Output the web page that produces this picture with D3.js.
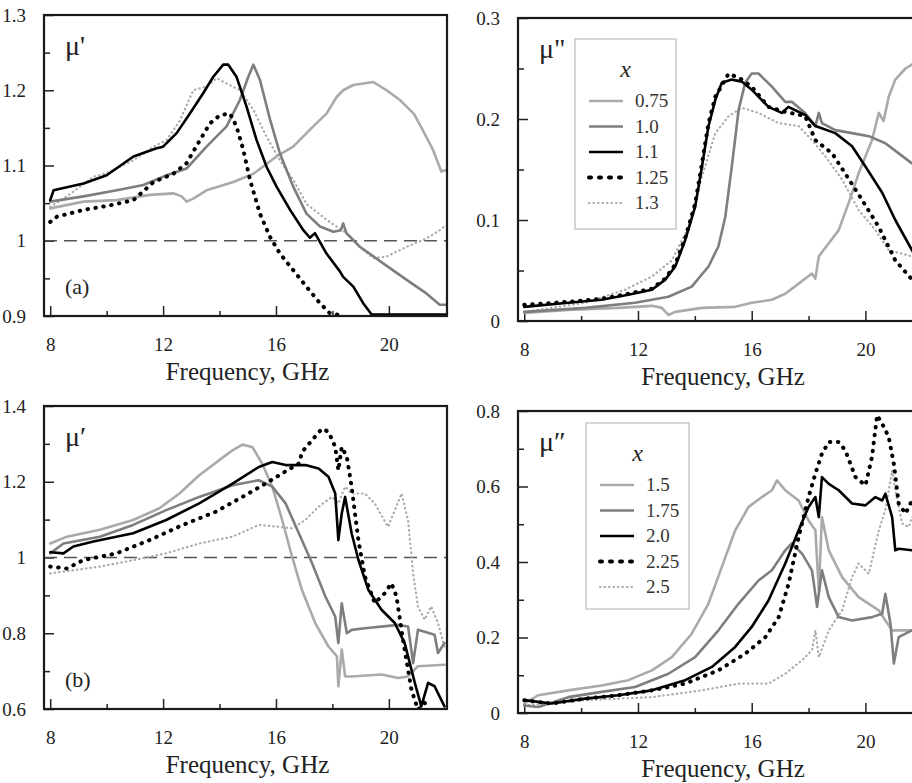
<!DOCTYPE html>
<html lang="en">
	<head>
		<meta charset="utf-8">
		<title>Permeability spectra</title>
		<script type="text/javascript" src="https://cdn.jsdelivr.net/npm/d3@7"></script>
		<style type="text/css">
			body, html {
				margin: 0;
				background: #fff;
			}
			.lbl {
				font-family: 'Liberation Serif', serif;
				fill: #222;
			}
			.tick text {
				font-family: 'Liberation Serif', serif;
				font-size: 19px;
				fill: #222;
			}
			.tick line {
				stroke: #222;
				stroke-width: 1.5;
			}
		</style>
	</head>
	<body>
		<script type="text/javascript">
			// frequency ticks (GHz)
			var freqTicks = [8, 12, 16, 20];
			var freqMinor = [10, 14, 18];

			// (a) mu' , x = 0.75 / 1.0 / 1.1 / 1.25 / 1.3
			var a075 = [[8,1.043],[9.18,1.052],[10.36,1.054],[11.54,1.061],[12.36,1.063],[12.66,1.059],[12.83,1.052],[13.07,1.056],[13.54,1.067],[14.49,1.078],[15.2,1.089],[16.02,1.112],[16.61,1.125],[17.32,1.152],[17.79,1.169],[18.15,1.191],[18.38,1.2],[18.74,1.207],[19.44,1.211],[19.92,1.2],[20.39,1.187],[20.8,1.172],[20.9,1.168],[21.2,1.147],[21.56,1.121],[21.86,1.092],[22.04,1.094]];
			var a100 = [[8,1.052],[9.18,1.059],[10.36,1.067],[11.3,1.074],[12.13,1.087],[12.83,1.096],[13.54,1.125],[14.25,1.152],[14.72,1.187],[15.02,1.218],[15.2,1.234],[15.43,1.214],[15.79,1.161],[16.14,1.116],[16.61,1.072],[17.08,1.036],[17.56,1.019],[18.03,1.012],[18.3,1.014],[18.38,1.023],[18.5,1.01],[18.97,0.992],[19.8,0.97],[20.63,0.948],[21.33,0.93],[21.8,0.915],[22.04,0.915]];
			var a110 = [[8,1.054],[8.12,1.067],[9.18,1.076],[10,1.087],[10.95,1.112],[11.77,1.123],[12,1.125],[12.48,1.143],[12.95,1.169],[13.42,1.196],[13.78,1.218],[14.13,1.234],[14.31,1.234],[14.6,1.218],[14.96,1.178],[15.31,1.134],[15.67,1.098],[16.02,1.072],[16.5,1.041],[16.97,1.014],[17.2,1.004],[17.38,1.01],[17.79,0.983],[18.27,0.959],[18.38,0.952],[18.74,0.939],[19.09,0.917],[19.39,0.902],[22.04,0.902]];
			var a125 = [[8,1.025],[8.24,1.032],[9.18,1.041],[10.12,1.047],[10.95,1.054],[11.66,1.078],[12.36,1.089],[12.83,1.103],[13.31,1.134],[13.66,1.156],[14.02,1.167],[14.37,1.169],[14.6,1.152],[14.84,1.121],[15.08,1.081],[15.43,1.036],[15.79,1.005],[16.14,0.983],[16.61,0.961],[17.08,0.939],[17.56,0.917],[17.9,0.904],[18.27,0.901],[18.6,0.88]];
			var a130 = [[8,1.045],[8.59,1.059],[9.53,1.085],[10,1.09],[10.95,1.107],[11.66,1.125],[12.13,1.134],[12.6,1.16],[13.07,1.2],[13.54,1.205],[13.9,1.216],[14.25,1.209],[14.72,1.2],[15.2,1.174],[15.67,1.138],[16.14,1.107],[16.61,1.081],[17.08,1.049],[17.79,1.028],[18.5,1.01],[18.97,0.992],[19.44,0.977],[19.92,0.979],[20.63,0.992],[21.33,1.003],[21.8,1.014],[22.04,1.021]];

			// (c) mu'' , same samples
			var c075 = [[8,0.008],[9.55,0.011],[11.31,0.013],[12.49,0.015],[12.84,0.013],[13.07,0.006],[13.31,0.009],[14.25,0.013],[15.42,0.014],[16,0.018],[16.71,0.021],[17.18,0.027],[17.65,0.037],[18.12,0.047],[18.24,0.042],[18.36,0.064],[18.71,0.077],[19.06,0.09],[19.41,0.117],[19.76,0.146],[20.23,0.179],[20.47,0.206],[20.64,0.198],[20.82,0.222],[21.05,0.239],[21.41,0.25],[21.64,0.254],[22.06,0.257]];
			var c100 = [[8,0.009],[10.14,0.013],[11.9,0.018],[13.07,0.024],[13.89,0.034],[14.48,0.054],[14.83,0.074],[15.07,0.103],[15.3,0.153],[15.54,0.209],[15.77,0.236],[16,0.245],[16.24,0.245],[16.71,0.232],[17.18,0.217],[17.41,0.217],[17.88,0.206],[18.24,0.193],[18.36,0.206],[18.47,0.196],[18.94,0.189],[19.53,0.186],[20.12,0.183],[20.7,0.176],[21.17,0.166],[21.64,0.156],[22.06,0.148]];
			var c110 = [[8,0.014],[9.55,0.018],[10.72,0.021],[11.66,0.026],[12.49,0.031],[12.96,0.041],[13.31,0.054],[13.66,0.08],[14.01,0.113],[14.25,0.153],[14.48,0.193],[14.72,0.219],[14.95,0.236],[15.3,0.239],[15.66,0.237],[16,0.229],[16.59,0.212],[17.06,0.206],[17.29,0.212],[17.88,0.204],[18.24,0.193],[18.94,0.186],[19.53,0.173],[20,0.153],[20.59,0.127],[21.05,0.1],[21.64,0.07],[22.06,0.05]];
			var c125 = [[8,0.016],[9.55,0.019],[10.72,0.022],[11.66,0.027],[12.49,0.032],[12.96,0.042],[13.31,0.056],[13.66,0.082],[14.01,0.116],[14.25,0.156],[14.48,0.196],[14.72,0.222],[15.19,0.245],[15.6,0.24],[16,0.232],[16.59,0.212],[17.18,0.207],[17.88,0.203],[18.24,0.179],[18.83,0.166],[19.29,0.146],[19.88,0.12],[20.47,0.093],[21.05,0.06],[21.64,0.041],[22.06,0.03]];
			var c130 = [[8,0.009],[10.14,0.018],[11.55,0.031],[12.49,0.044],[13.19,0.06],[13.78,0.093],[14.25,0.143],[14.72,0.186],[15.19,0.203],[15.66,0.211],[16.24,0.206],[16.94,0.196],[17.65,0.193],[18.12,0.179],[18.59,0.163],[19.18,0.14],[19.76,0.11],[20.35,0.09],[20.82,0.07],[21.64,0.064],[22.06,0.06]];

			// (b) mu' , x = 1.5 / 1.75 / 2.0 / 2.25 / 2.5
			var b150 = [[8,1.037],[8.59,1.055],[9.76,1.073],[10.94,1.099],[11.87,1.13],[12.58,1.169],[13.28,1.217],[13.99,1.257],[14.46,1.283],[14.81,1.298],[15.16,1.292],[15.51,1.248],[15.87,1.187],[16.22,1.099],[16.57,1.002],[16.92,0.914],[17.39,0.827],[17.86,0.765],[18.16,0.739],[18.21,0.66],[18.33,0.757],[18.45,0.686],[18.68,0.686],[19.74,0.691],[20.33,0.682],[20.68,0.686],[21.03,0.713],[21.97,0.717]];
			var b175 = [[8,1.011],[8.47,1.037],[9.76,1.055],[10.94,1.086],[12.11,1.125],[13.28,1.16],[14.46,1.191],[15.39,1.204],[15.87,1.187],[16.34,1.143],[16.81,1.064],[17.28,0.985],[17.75,0.897],[18.1,0.844],[18.21,0.774],[18.33,0.879],[18.51,0.8],[18.68,0.809],[19.15,0.813],[20.33,0.822],[20.68,0.818],[20.86,0.721],[21.03,0.809],[21.62,0.796],[21.74,0.748],[21.97,0.774]];
			var b200 = [[8,1.014],[8.47,1.011],[8.82,1.029],[9.53,1.042],[10.94,1.064],[12.11,1.099],[13.28,1.143],[14.46,1.195],[15.39,1.239],[15.87,1.252],[16.34,1.244],[17.04,1.244],[17.51,1.235],[17.86,1.213],[18.1,1.169],[18.21,1.046],[18.33,1.116],[18.45,1.16],[18.68,1.064],[18.92,0.994],[19.27,0.915],[19.74,0.862],[20.21,0.827],[20.56,0.774],[20.92,0.669],[21.15,0.607],[21.39,0.669],[21.62,0.66],[21.97,0.607]];
			var b225 = [[8,0.976],[8.59,0.971],[9.17,0.993],[10.35,1.011],[11.52,1.046],[12.7,1.086],[13.87,1.121],[14.81,1.16],[15.63,1.195],[16.22,1.222],[16.81,1.248],[16.93,1.279],[17.28,1.31],[17.63,1.34],[17.86,1.332],[18.1,1.292],[18.21,1.23],[18.33,1.292],[18.51,1.266],[18.68,1.187],[18.92,1.046],[19.15,0.95],[19.5,0.88],[19.86,0.906],[20.09,0.932],[20.27,0.897],[20.5,0.783],[20.8,0.651],[21.03,0.598],[21.27,0.616],[21.5,0.58]];
			var b250 = [[8,0.958],[9.76,0.976],[10.94,0.993],[12.11,1.011],[13.28,1.037],[14.46,1.055],[15.39,1.086],[16.1,1.081],[16.57,1.077],[17.04,1.099],[17.51,1.134],[17.98,1.16],[18.21,1.143],[18.45,1.187],[18.68,1.169],[19.15,1.169],[19.5,1.143],[19.97,1.081],[20.45,1.169],[20.68,1.099],[20.86,0.958],[21.03,0.871],[21.27,0.836],[21.5,0.871],[21.74,0.827],[21.97,0.765]];

			// (d) mu''
			var d150 = [[8,0.025],[8.49,0.047],[9.55,0.06],[10.72,0.073],[11.66,0.087],[12.49,0.113],[13.19,0.148],[13.89,0.21],[14.48,0.29],[14.95,0.387],[15.42,0.484],[15.89,0.546],[16.36,0.572],[16.71,0.59],[16.89,0.616],[17.18,0.59],[17.65,0.563],[18,0.51],[18.24,0.484],[18.36,0.325],[18.47,0.519],[18.71,0.431],[19.18,0.36],[19.76,0.307],[20.47,0.272],[20.7,0.245],[20.94,0.219],[21.64,0.219],[22.06,0.215]];
			var d175 = [[8,0.02],[8.49,0.016],[9.55,0.042],[10.72,0.056],[11.9,0.069],[13.07,0.104],[14.01,0.148],[14.83,0.219],[15.54,0.29],[16.24,0.351],[16.71,0.378],[17.18,0.431],[17.41,0.449],[17.77,0.422],[18.12,0.378],[18.3,0.281],[18.47,0.378],[18.71,0.307],[19.06,0.254],[19.53,0.245],[20.23,0.254],[20.59,0.263],[20.7,0.316],[20.88,0.237],[21,0.131],[21.17,0.201],[21.64,0.219],[22.06,0.22]];
			var d200 = [[8,0.034],[8.96,0.025],[10.14,0.038],[11.31,0.047],[12.49,0.06],[13.66,0.087],[14.6,0.122],[15.42,0.175],[16,0.228],[16.59,0.298],[17.18,0.396],[17.65,0.484],[18,0.546],[18.24,0.572],[18.36,0.519],[18.47,0.625],[18.71,0.607],[19.06,0.59],[19.53,0.555],[20,0.55],[20.35,0.572],[20.59,0.563],[20.7,0.581],[20.94,0.519],[21.05,0.431],[21.17,0.435],[21.64,0.431],[22.06,0.44]];
			var d225 = [[8,0.034],[8.96,0.025],[10.14,0.038],[11.31,0.047],[12.49,0.06],[13.66,0.078],[14.83,0.113],[15.77,0.157],[16.48,0.201],[16.95,0.254],[17.3,0.343],[17.65,0.466],[18,0.572],[18.24,0.634],[18.47,0.687],[18.71,0.718],[19.06,0.718],[19.29,0.696],[19.65,0.625],[20,0.603],[20.23,0.678],[20.41,0.789],[20.59,0.766],[20.82,0.731],[21,0.66],[21.17,0.555],[21.41,0.528],[21.64,0.563],[22.06,0.57]];
			var d250 = [[8,0.02],[10.14,0.034],[12.49,0.042],[14.25,0.06],[15.54,0.078],[16.59,0.078],[17.18,0.104],[17.77,0.14],[18.12,0.166],[18.24,0.219],[18.36,0.148],[18.71,0.219],[19.18,0.272],[19.53,0.36],[19.76,0.396],[20.12,0.369],[20.47,0.484],[20.7,0.537],[20.94,0.643],[21.05,0.59],[21.29,0.502],[21.52,0.493],[21.64,0.519],[22.06,0.5]];

			var topLegend = ["0.75", "1.0", "1.1", "1.25", "1.3"];
			var botLegend = ["1.5", "1.75", "2.0", "2.25", "2.5"];

			// line styles, one per legend position
			var styles = [
				{color: "#aaa", width: 2.6, dash: null},
				{color: "#7e7e7e", width: 2.6, dash: null},
				{color: "#000", width: 2.6, dash: null},
				{color: "#000", width: 4, dash: "0.5,7.5"},
				{color: "#aaa", width: 2.2, dash: "0.5,4"}
			];

			var w = 912;
			var h = 783;

			var svg = d3.select("body")
				.append("svg")
				.attr("width", w)
				.attr("height", h);

			var fmt = function(d) { return String(+d.toFixed(2)); };

			function panel(p) {
				var x = d3.scaleLinear().domain([7.78, 22.06]).range([p.left, p.right]);
				var y = d3.scaleLinear().domain(p.yDomain).range([p.bottom, p.top]);
				var g = svg.append("g");

				g.append("clipPath").attr("id", "clip" + p.id)
					.append("rect")
					.attr("x", p.left).attr("y", p.top)
					.attr("width", p.right - p.left).attr("height", p.bottom - p.top);

				// minor ticks first
				g.append("g")
					.attr("transform", "translate(0," + p.bottom + ")")
					.call(d3.axisBottom(x).tickValues(freqMinor).tickSize(-5).tickFormat(""));
				g.append("g")
					.attr("transform", "translate(0," + p.bottom + ")")
					.call(d3.axisBottom(x).tickValues(freqTicks).tickSize(-10).tickPadding(22).tickFormat(fmt));
				g.append("g")
					.attr("transform", "translate(" + p.left + ",0)")
					.call(d3.axisLeft(y).tickValues(p.yMinor).tickSize(-6).tickFormat(""));
				g.append("g")
					.attr("transform", "translate(" + p.left + ",0)")
					.call(d3.axisLeft(y).tickValues(p.yTicks).tickSize(-10).tickPadding(18).tickFormat(fmt));
				g.selectAll(".domain").remove();

				if (p.unity) {
					g.append("line")
						.attr("x1", p.left).attr("x2", p.right)
						.attr("y1", y(1)).attr("y2", y(1))
						.attr("stroke", "#555")
						.attr("stroke-width", 1.3)
						.attr("stroke-dasharray", "13,7");
				}

				var line = d3.line()
					.x(function(d) { return x(d[0]); })
					.y(function(d) { return y(d[1]); });

				// draw order: light first, black last
				[0, 4, 1, 3, 2].forEach(function(i) {
					var s = styles[i];
					g.append("path")
						.datum(p.series[i])
						.attr("clip-path", "url(#clip" + p.id + ")")
						.attr("d", line)
						.attr("fill", "none")
						.attr("stroke", s.color)
						.attr("stroke-width", s.width)
						.attr("stroke-linejoin", "round")
						.attr("stroke-linecap", "round")
						.attr("stroke-dasharray", s.dash);
				});

				g.append("rect")
					.attr("x", p.left).attr("y", p.top)
					.attr("width", p.right - p.left).attr("height", p.bottom - p.top)
					.attr("fill", "none")
					.attr("stroke", "#1a1a1a")
					.attr("stroke-width", 2.2);

				g.append("text")
					.attr("class", "lbl")
					.attr("x", (p.left + p.right) / 2 + 2)
					.attr("y", p.bottom + 64)
					.attr("text-anchor", "middle")
					.style("font-size", "25px")
					.text("Frequency, GHz");

				g.append("text")
					.attr("class", "lbl")
					.attr("x", p.left + 21)
					.attr("y", p.top + 40)
					.style("font-size", "28px")
					.text(p.mu);

				if (p.tag) {
					g.append("text")
						.attr("class", "lbl")
						.attr("x", p.left + 21)
						.attr("y", p.bottom - 22)
						.style("font-size", "22px")
						.text(p.tag);
				}

				if (p.legend) {
					var L = p.legend;
					var lg = g.append("g");
					lg.append("rect")
						.attr("x", L.x).attr("y", L.y)
						.attr("width", L.w).attr("height", L.h)
						.attr("fill", "#fff")
						.attr("stroke", "#bbb")
						.attr("stroke-width", 1.2);
					lg.append("text")
						.attr("class", "lbl")
						.attr("x", L.x + L.w / 2)
						.attr("y", L.y + 38)
						.attr("text-anchor", "middle")
						.style("font-size", "24px")
						.style("font-style", "italic")
						.text("x");
					L.labels.forEach(function(t, i) {
						var s = styles[i];
						var yy = L.y + 62 + i * 25.5;
						lg.append("line")
							.attr("x1", L.x + 14).attr("x2", L.x + 48)
							.attr("y1", yy).attr("y2", yy)
							.attr("stroke", s.color)
							.attr("stroke-width", s.width)
							.attr("stroke-linecap", s.dash ? "round" : "butt")
							.attr("stroke-dasharray", s.dash ? (i == 3 ? "2,8" : "0.5,4") : null);
						lg.append("text")
							.attr("class", "lbl")
							.attr("x", L.x + 60)
							.attr("y", yy + 6)
							.style("font-size", "19px")
							.style("fill", "#333")
							.text(t);
					});
				}
			}

			panel({id: "a", left: 44, right: 447, top: 15, bottom: 316,
				yDomain: [0.9, 1.3], yTicks: [0.9, 1, 1.1, 1.2, 1.3], yMinor: [0.95, 1.05, 1.15, 1.25],
				series: [a075, a100, a110, a125, a130], unity: true, mu: "\u03bc'", tag: "(a)"});
			panel({id: "b", left: 44, right: 447, top: 406, bottom: 709,
				yDomain: [0.6, 1.4], yTicks: [0.6, 0.8, 1, 1.2, 1.4], yMinor: [0.7, 0.9, 1.1, 1.3],
				series: [b150, b175, b200, b225, b250], unity: true, mu: "\u03bc\u2032", tag: "(b)"});
			panel({id: "c", left: 518, right: 924, top: 18, bottom: 321,
				yDomain: [0, 0.3], yTicks: [0, 0.1, 0.2, 0.3], yMinor: [0.05, 0.15, 0.25],
				series: [c075, c100, c110, c125, c130], mu: "\u03bc\"",
				legend: {x: 575, y: 39, w: 101, h: 190, labels: topLegend}});
			panel({id: "d", left: 518, right: 924, top: 411, bottom: 713,
				yDomain: [0, 0.8], yTicks: [0, 0.2, 0.4, 0.6, 0.8], yMinor: [0.1, 0.3, 0.5, 0.7],
				series: [d150, d175, d200, d225, d250], mu: "\u03bc\u2033",
				legend: {x: 586, y: 423, w: 103, h: 186, labels: botLegend}});
		</script>
	</body>
</html>
